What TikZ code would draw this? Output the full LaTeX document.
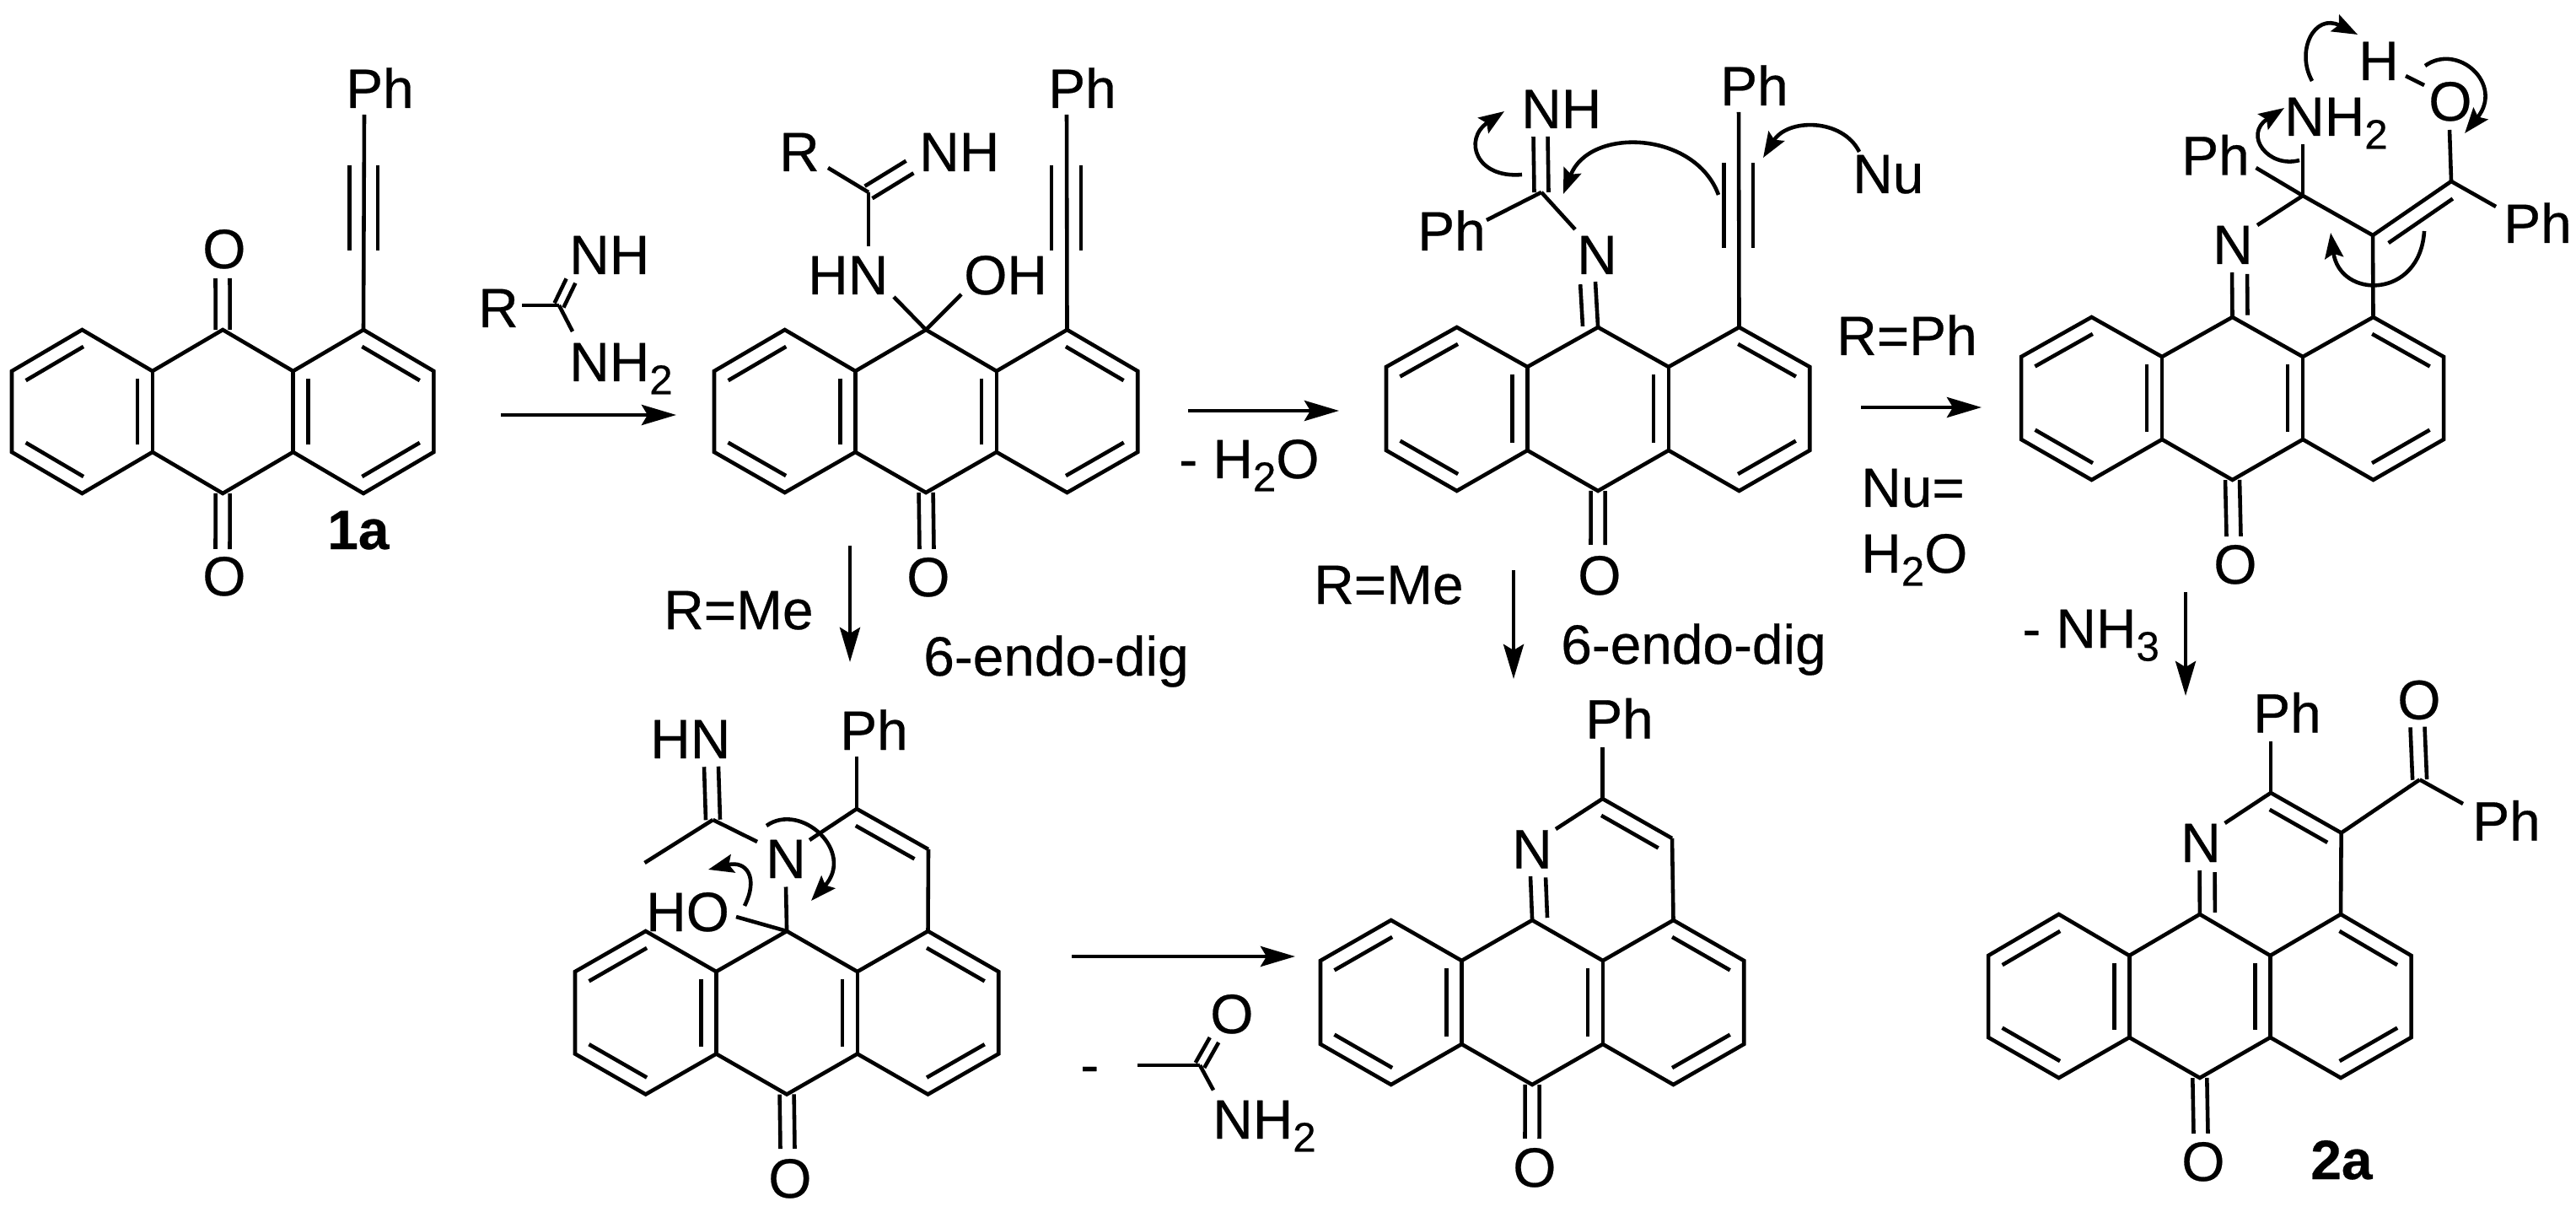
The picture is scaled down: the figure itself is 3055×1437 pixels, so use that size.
\documentclass[tikz,border=0pt]{standalone}
\usepackage{fontspec}
\setmainfont{Liberation Sans}[FakeBold=0.4]
\usetikzlibrary{calc,arrows.meta}

\newcommand{\subn}[1]{\raisebox{-4.4pt}{\fontsize{14}{14}\selectfont #1}}
% inner line of a double bond, on the right hand of the way from #2 to #3
\newcommand{\dbl}[3][.09]{\draw ($(#2)!#1!(#3)!.18cm!-90:(#3)$) -- ($(#3)!#1!(#2)!.18cm!90:(#2)$);}
% two lines either side of the way from #2 to #3
\newcommand{\dblc}[3][.085cm]{%
    \draw ($(#2)!#1!90:(#3)$) -- ($(#3)!#1!-90:(#2)$);
    \draw ($(#2)!#1!-90:(#3)$) -- ($(#3)!#1!90:(#2)$);}
% the three rings: name, first x, x step, four y levels
\newcommand{\anthra}[7]{%
    \coordinate (#1-1) at (#2,#5);
    \coordinate (#1-2) at ({#2+#3},#4);
    \coordinate (#1-3) at ({#2+2*#3},#5);
    \coordinate (#1-4) at ({#2+3*#3},#4);
    \coordinate (#1-5) at ({#2+4*#3},#5);
    \coordinate (#1-6) at ({#2+5*#3},#4);
    \coordinate (#1-7) at ({#2+6*#3},#5);
    \coordinate (#1-8) at ({#2+6*#3},#6);
    \coordinate (#1-9) at ({#2+5*#3},#7);
    \coordinate (#1-10) at ({#2+4*#3},#6);
    \coordinate (#1-11) at ({#2+3*#3},#7);
    \coordinate (#1-12) at ({#2+2*#3},#6);
    \coordinate (#1-13) at ({#2+#3},#7);
    \coordinate (#1-14) at (#2,#6);
    \draw (#1-1) \foreach \i in {2,...,14} {-- (#1-\i)} -- cycle;
    \draw (#1-3) -- (#1-12);
    \draw (#1-5) -- (#1-10);
    \dbl{#1-1}{#1-2}
    \dbl{#1-13}{#1-14}
    \dbl{#1-3}{#1-12}
    \dbl{#1-6}{#1-7}
    \dbl{#1-8}{#1-9}}

\tikzset{
    lab/.style={anchor=base west,inner sep=0pt,font=\fontsize{18.7}{20}\selectfont},
    bold/.style={lab,font=\fontsize{18.7}{20}\selectfont\bfseries},
    rxn/.style={-{Stealth[length=.41cm,width=.24cm,inset=.07cm]}},
    curly/.style={-{Stealth[length=.3cm,width=.22cm,inset=.05cm]}}
}

\begin{document}
\begin{tikzpicture}[x=.01cm,y=-.01cm,line width=1.3pt]
    \useasboundingbox (0,0) rectangle (3055,1437);

    % 1a
    \anthra{a}{14}{83.4}{391}{440}{536}{585}
    \dbl{a-10}{a-5}
    \node[lab] (a-ph) at (408,128) {Ph};
    \node[lab] (a-o1) at (238,318) {O};
    \node[lab] (a-o2) at (238,706) {O};
    \node[bold] (a-name) at (386,651) {1a};
    \coordinate (a-t1) at (432,136);
    \coordinate (a-t2) at (414.5,196.5);
    \coordinate (a-t3) at (414.5,297);
    \coordinate (a-t4) at (448,196.5);
    \coordinate (a-t5) at (448,297);
    \coordinate (a-u1) at (264,330);
    \coordinate (a-u2) at (264,651);
    \draw (a-6) -- (a-t1);
    \draw (a-t2) -- (a-t3);
    \draw (a-t4) -- (a-t5);
    \dblc{a-4}{a-u1}
    \dblc{a-11}{a-u2}

    % amidine over the first arrow
    \node[lab] (r-r) at (565,388) {R};
    \node[lab] (r-nh) at (673,325) {NH};
    \node[lab] (r-nh2) at (673,452) {NH\subn{2}};
    \coordinate (r-c) at (663,362);
    \coordinate (r-c1) at (619,362);
    \coordinate (r-c2) at (679,393);
    \coordinate (r-c3) at (677,333);
    \draw (r-c1) -- (r-c);
    \draw (r-c) -- (r-c2);
    \dblc[.06cm]{r-c}{r-c3}
    \coordinate (ab-1) at (594,492);
    \coordinate (ab-2) at (802,492);
    \draw[rxn] (ab-1) -- (ab-2);

    % second compound
    \anthra{b}{847}{83.7}{391}{440}{536}{584}
    \dbl{b-5}{b-10}
    \node[lab] (b-ph) at (1241,128) {Ph};
    \node[lab] (b-oh) at (1141,349) {OH};
    \node[lab] (b-hn) at (956,349) {HN};
    \node[lab] (b-nh) at (1088,203) {NH};
    \node[lab] (b-r) at (922,203) {R};
    \node[lab] (b-o) at (1073,707) {O};
    \coordinate (b-t1) at (1265,136);
    \coordinate (b-t2) at (1247,196.5);
    \coordinate (b-t3) at (1247,297);
    \coordinate (b-t4) at (1282,196.5);
    \coordinate (b-t5) at (1282,297);
    \coordinate (b-c) at (1030,228);
    \coordinate (b-c1) at (1060,352);
    \coordinate (b-c2) at (1140,349);
    \coordinate (b-c3) at (1030,292);
    \coordinate (b-c4) at (982,199);
    \coordinate (b-c5) at (1079,198);
    \coordinate (b-u) at (1099,651);
    \draw (b-6) -- (b-t1);
    \draw (b-t2) -- (b-t3);
    \draw (b-t4) -- (b-t5);
    \draw (b-4) -- (b-c1);
    \draw (b-4) -- (b-c2);
    \draw (b-c3) -- (b-c);
    \draw (b-c4) -- (b-c);
    \dblc{b-c}{b-c5}
    \dblc{b-11}{b-u}

    \coordinate (bc-1) at (1409,487);
    \coordinate (bc-2) at (1588,487);
    \draw[rxn] (bc-1) -- (bc-2);
    \node[lab] (bc-w) at (1396,567) {- H\subn{2}O};
    \node[lab] (be-r) at (785,746) {R=Me};
    \node[lab] (be-t) at (1093,801) {6-endo-dig};
    \coordinate (be-1) at (1008,647);
    \coordinate (be-2) at (1008,785);
    \draw[rxn] (be-1) -- (be-2);

    % third compound
    \anthra{c}{1644}{83.7}{388}{435}{534}{582}
    \dbl{c-5}{c-10}
    \node[lab] (c-ph) at (2038,125) {Ph};
    \node[lab] (c-n) at (1868,325) {N};
    \node[lab] (c-ph2) at (1679,297) {Ph};
    \node[lab] (c-nh) at (1802,152) {NH};
    \node[lab] (c-nu) at (2195,229) {Nu};
    \node[lab] (c-o) at (1869,705) {O};
    \coordinate (c-t1) at (2062,133);
    \coordinate (c-t2) at (2044.5,193);
    \coordinate (c-t3) at (2044.5,294);
    \coordinate (c-t4) at (2079,193);
    \coordinate (c-t5) at (2079,294);
    \coordinate (c-c) at (1828,228);
    \coordinate (c-c1) at (1868,272);
    \coordinate (c-c2) at (1763,261);
    \coordinate (c-c3) at (1827,162);
    \coordinate (c-c4) at (1892,334);
    \coordinate (c-u) at (1895,646);
    \draw (c-6) -- (c-t1);
    \draw (c-t2) -- (c-t3);
    \draw (c-t4) -- (c-t5);
    \draw (c-c) -- (c-c1);
    \draw (c-c) -- (c-c2);
    \dblc{c-c}{c-c3}
    \draw (c-4) -- (c-c4);
    \dbl[.04]{c-c4}{c-4}
    \dblc{c-11}{c-u}
    % electron flow
    \coordinate (c-e1) at (1805,207);
    \coordinate (c-e2) at (1784,132);
    \draw[curly] (c-e1) .. controls (1750,212) and (1735,165) .. (c-e2);
    \coordinate (c-e3) at (2038,231);
    \coordinate (c-e4) at (1854,230);
    \draw[curly] (c-e3) .. controls (2010,155) and (1885,150) .. (c-e4);
    \coordinate (c-e5) at (2205,180);
    \coordinate (c-e6) at (2091,187);
    \draw[curly] (c-e5) .. controls (2185,140) and (2120,140) .. (c-e6);

    \coordinate (cd-1) at (2207,483);
    \coordinate (cd-2) at (2350,483);
    \draw[rxn] (cd-1) -- (cd-2);
    \node[lab] (cd-r) at (2176,421) {R=Ph};
    \node[lab] (cd-nu) at (2205,601) {Nu=};
    \node[lab] (cd-w) at (2205,679) {H\subn{2}O};
    \node[lab] (cf-r) at (1556,716) {R=Me};
    \node[lab] (cf-t) at (1849,787) {6-endo-dig};
    \coordinate (cf-1) at (1795,676);
    \coordinate (cf-2) at (1795,805);
    \draw[rxn] (cf-1) -- (cf-2);

    % fourth compound
    \anthra{d}{2397}{83.5}{376}{423}{521}{569}
    \dbl{d-5}{d-10}
    \node[lab] (d-n) at (2622,313) {N};
    \node[lab] (d-ph) at (2585,207.5) {Ph};
    \node[lab] (d-nh) at (2707,161) {NH\subn{2}};
    \node[lab] (d-ph2) at (2967,288) {Ph};
    \node[lab] (d-o1) at (2878,143) {O};
    \node[lab] (d-h) at (2795,95) {H};
    \node[lab] (d-o) at (2623,692) {O};
    \coordinate (d-c) at (2731,232);
    \coordinate (d-v1) at (2814,279);
    \coordinate (d-v2) at (2907,215);
    \coordinate (d-c1) at (2677,267);
    \coordinate (d-c2) at (2675.5,199);
    \coordinate (d-c3) at (2731,171);
    \coordinate (d-c4) at (2960,245);
    \coordinate (d-c5) at (2905,154);
    \coordinate (d-c6) at (2853,90);
    \coordinate (d-c7) at (2875,101);
    \coordinate (d-c8) at (2647,323);
    \coordinate (d-u) at (2649,636);
    \draw (d-c) -- (d-c1);
    \draw (d-c) -- (d-c2);
    \draw (d-c) -- (d-c3);
    \draw (d-c) -- (d-v1);
    \draw (d-v1) -- (d-6);
    \draw (d-v1) -- (d-v2);
    \dbl{d-v1}{d-v2}
    \draw (d-v2) -- (d-c4);
    \draw (d-v2) -- (d-c5);
    \draw (d-c6) -- (d-c7);
    \draw (d-4) -- (d-c8);
    \dbl[.04]{d-4}{d-c8}
    \dblc{d-11}{d-u}
    % electron flow
    \coordinate (d-e1) at (2742,96);
    \coordinate (d-e2) at (2796,41);
    \draw[curly] (d-e1) .. controls (2722,60) and (2745,15) .. (d-e2);
    \coordinate (d-e3) at (2727,190);
    \coordinate (d-e4) at (2709,128);
    \draw[curly] (d-e3) .. controls (2690,200) and (2660,160) .. (d-e4);
    \coordinate (d-e5) at (2876,78);
    \coordinate (d-e6) at (2923,158);
    \draw[curly] (d-e5) .. controls (2915,50) and (2970,100) .. (d-e6);
    \coordinate (d-e7) at (2875,274);
    \coordinate (d-e8) at (2764,276);
    \draw[curly] (d-e7) .. controls (2870,355) and (2775,355) .. (d-e8);

    \node[lab] (dg-n) at (2396,768) {- NH\subn{3}};
    \coordinate (dg-1) at (2592,702);
    \coordinate (dg-2) at (2592,825);
    \draw[rxn] (dg-1) -- (dg-2);

    % bottom left compound
    \anthra{e}{682}{83.7}{1104}{1152}{1249.5}{1297.5}
    \dbl{e-5}{e-10}
    \node[lab] (e-ph) at (994,889) {Ph};
    \node[lab] (e-n) at (906,1041) {N};
    \node[lab] (e-ho) at (764,1104) {HO};
    \node[lab] (e-hn) at (769,899) {HN};
    \node[lab] (e-o) at (909,1420) {O};
    \coordinate (e-v1) at (1016,959);
    \coordinate (e-v2) at (1101,1007);
    \coordinate (e-v3) at (1016,897);
    \coordinate (e-v4) at (960,996);
    \coordinate (e-c) at (845.5,972);
    \coordinate (e-c1) at (932,1051.5);
    \coordinate (e-c2) at (873,1087);
    \coordinate (e-c3) at (898,998);
    \coordinate (e-c4) at (764.5,1023);
    \coordinate (e-c5) at (843.5,909);
    \coordinate (e-u) at (934,1362);
    \draw (e-v1) -- (e-v2);
    \draw (e-v2) -- (e-6);
    \draw (e-v1) -- (e-v3);
    \draw (e-v1) -- (e-v4);
    \dbl{e-v1}{e-v2}
    \draw (e-4) -- (e-c1);
    \draw (e-4) -- (e-c2);
    \draw (e-c) -- (e-c3);
    \draw (e-c) -- (e-c4);
    \dblc{e-c}{e-c5}
    \dblc{e-11}{e-u}
    % electron flow
    \coordinate (e-e1) at (883,1074);
    \coordinate (e-e2) at (840,1031);
    \draw[curly] (e-e1) .. controls (900,1040) and (885,1020) .. (e-e2);
    \coordinate (e-e3) at (909,979);
    \coordinate (e-e4) at (962,1068);
    \draw[curly] (e-e3) .. controls (950,950) and (1015,1010) .. (e-e4);

    \coordinate (ef-1) at (1271,1134);
    \coordinate (ef-2) at (1536,1134);
    \draw[rxn] (ef-1) -- (ef-2);

    % acetamide under the arrow
    \node[lab] (m-minus) at (1279,1285) {-};
    \node[lab] (m-o) at (1433,1225) {O};
    \node[lab] (m-nh) at (1436,1350) {NH\subn{2}};
    \coordinate (m-c) at (1423,1263);
    \coordinate (m-c1) at (1349,1263);
    \coordinate (m-c2) at (1439,1292.5);
    \coordinate (m-c3) at (1440,1233);
    \draw (m-c1) -- (m-c);
    \draw (m-c) -- (m-c2);
    \dblc[.06cm]{m-c}{m-c3}

    % bottom middle compound
    \anthra{f}{1566}{83.7}{1091}{1139}{1238}{1286}
    \dbl{f-5}{f-10}
    \node[lab] (f-ph) at (1878,875.5) {Ph};
    \node[lab] (f-n) at (1791,1029.5) {N};
    \node[lab] (f-o) at (1792,1407) {O};
    \coordinate (f-v1) at (1900.5,947);
    \coordinate (f-v2) at (1983,994);
    \coordinate (f-v3) at (1900.5,885.5);
    \coordinate (f-v4) at (1845,983);
    \coordinate (f-c) at (1815,1039);
    \coordinate (f-u) at (1817,1350);
    \draw (f-v1) -- (f-v2);
    \draw (f-v2) -- (f-6);
    \draw (f-v1) -- (f-v3);
    \draw (f-v1) -- (f-v4);
    \dbl{f-v1}{f-v2}
    \draw (f-4) -- (f-c);
    \dbl[.04]{f-4}{f-c}
    \dblc{f-11}{f-u}

    % 2a
    \anthra{g}{2358}{83.6}{1084}{1133}{1230}{1278}
    \dbl{g-5}{g-10}
    \node[lab] (g-ph) at (2670,868.6) {Ph};
    \node[lab] (g-n) at (2584,1022) {N};
    \node[lab] (g-ph2) at (2930,996.6) {Ph};
    \node[lab] (g-o1) at (2841,852.6) {O};
    \node[lab] (g-o) at (2585,1400) {O};
    \node[bold] (g-name) at (2738,1398) {2a};
    \coordinate (g-v1) at (2693,940);
    \coordinate (g-v2) at (2776.6,987.5);
    \coordinate (g-v3) at (2693,879);
    \coordinate (g-v4) at (2638.5,976);
    \coordinate (g-k) at (2869.6,924.4);
    \coordinate (g-k1) at (2921,953);
    \coordinate (g-k2) at (2867,862);
    \coordinate (g-c) at (2608.6,1032);
    \coordinate (g-u) at (2610,1344);
    \draw (g-v1) -- (g-v2);
    \draw (g-v2) -- (g-6);
    \draw (g-v1) -- (g-v3);
    \draw (g-v1) -- (g-v4);
    \dbl{g-v1}{g-v2}
    \draw (g-v2) -- (g-k);
    \draw (g-k) -- (g-k1);
    \dblc{g-k}{g-k2}
    \draw (g-4) -- (g-c);
    \dbl[.04]{g-4}{g-c}
    \dblc{g-11}{g-u}
\end{tikzpicture}
\end{document}
